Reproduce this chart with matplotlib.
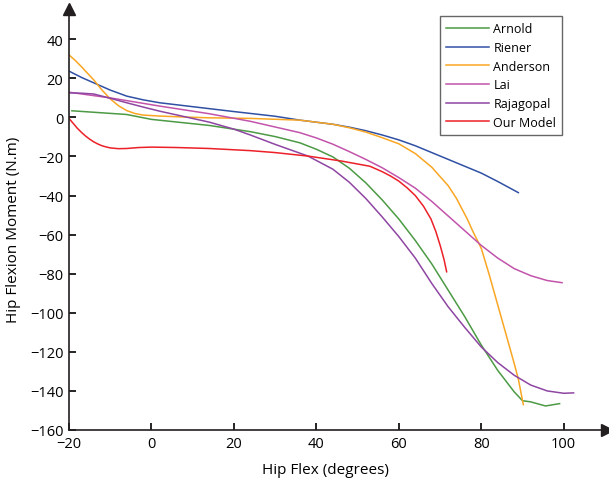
import matplotlib
matplotlib.use("Agg")
from matplotlib import pyplot as plt

plt.rcParams['font.family'] = ['Open Sans', 'DejaVu Sans']

# hip flexion angle (deg) vs moment (N.m)
arnold_x = [-19.3, -6, 0, 14, 24, 30, 36, 40, 44, 48, 52, 56, 60, 64, 68, 72, 76, 80, 84, 88, 90, 92, 95.6, 99]
arnold_y = [3.4, 1.5, -1.0, -4.1, -7.3, -9.8, -13, -16.3, -20.2, -26, -33.5, -42.3, -52, -63, -75, -88.5, -102, -116.5, -129.5, -140.5, -145, -145.6, -147.7, -146.5]

riener_x = [-20, -17, -14, -10, -6, -2, 2, 12, 20, 30, 36, 44, 48, 52, 56, 60, 64, 68, 72, 76, 80, 84, 89]
riener_y = [23.7, 20.5, 17.7, 14.0, 10.9, 9.0, 7.5, 5.0, 3.0, 0.6, -1.4, -3.5, -5.0, -6.8, -9.0, -11.5, -14.5, -18, -21.5, -25, -28.5, -32.8, -38.5]

anderson_x = [-20, -18.5, -17, -15.5, -14, -12, -10, -8, -6, -4, -2, 2, 8, 14, 24, 36, 44, 48, 52, 56, 60, 64, 68, 72, 74, 76.6, 78, 80, 82, 84, 86, 88, 89, 90.2]
anderson_y = [32, 29.2, 26, 22.6, 19.2, 14, 9.5, 6, 3.5, 2.0, 1.2, 0.7, 0.2, -0.2, -0.5, -1.4, -3.5, -5.3, -7.5, -10.4, -13.5, -18.5, -25.5, -35, -41.5, -52, -58.5, -67, -81, -96, -111, -126, -134, -147]

lai_x = [-20, -10, 2, 14, 24, 36, 40, 44, 48, 52, 56, 60, 64, 68, 72, 76, 80, 84, 88, 92, 96, 99.6]
lai_y = [12.9, 10, 5.8, 1.9, -2, -7.8, -10.5, -13.7, -17.5, -21.5, -25.8, -30.8, -36.2, -43, -50.5, -58, -65.5, -72, -77.4, -81, -83.5, -84.6]

raja_x = [-20, -17, -14, -10, -6, -2, 2, 8, 14, 20, 24, 30, 38, 44, 48, 52, 56, 60, 64, 68, 72, 76, 80, 84, 88, 92, 96, 100, 102.4]
raja_y = [12.6, 12.4, 12.0, 9.8, 7.5, 5.3, 3.2, 0.4, -2.4, -6, -9.0, -13.8, -19.8, -26.5, -33.2, -41.5, -51, -61, -72, -85, -97, -107.5, -117.5, -125.5, -132, -137, -140, -141.2, -141]

ours_x = [-20, -19, -18, -17, -16, -15, -14, -13, -12, -11, -10, -8, -6, -3, 0, 6, 14, 24, 30, 38, 46, 53, 56, 58, 60, 62, 64, 66, 67.8, 69, 70.1, 71, 71.6]
ours_y = [-0.5, -3, -5.5, -7.6, -9.5, -11.1, -12.5, -13.6, -14.5, -15.1, -15.6, -16, -15.9, -15.4, -15.2, -15.4, -15.9, -17, -18, -19.8, -22.3, -25, -27.8, -30, -32.6, -36, -40, -45.5, -52, -58.5, -66, -73, -79]

series = [
    ("Arnold", arnold_x, arnold_y, "#4c9a44"),
    ("Riener", riener_x, riener_y, "#3050a4"),
    ("Anderson", anderson_x, anderson_y, "#f9a623"),
    ("Lai", lai_x, lai_y, "#c254ab"),
    ("Rajagopal", raja_x, raja_y, "#8e46a2"),
    ("Our Model", ours_x, ours_y, "#ec2028"),
]

x_ticks = [-20, 0, 20, 40, 60, 80, 100]
y_ticks = [-160, -140, -120, -100, -80, -60, -40, -20, 0, 20, 40]

fig = plt.figure(figsize=(6.09, 4.85), dpi=100)
ax = fig.add_axes([69 / 609, 54 / 485, 538 / 609, 421 / 485])

for name, xs, ys, col in series:
    ax.plot(xs, ys, color=col, lw=1.1, label=name, solid_joinstyle='round')

ax.set_xlim(-20, 110.5)
ax.set_ylim(-160, 55.5)
ax.set_xticks(x_ticks)
ax.set_yticks(y_ticks)
ax.tick_params(direction='in', length=5, width=1.2, labelsize=10.5, pad=4)

for side in ['top', 'right']:
    ax.spines[side].set_visible(False)
for side in ['left', 'bottom']:
    ax.spines[side].set_linewidth(1.2)
    ax.spines[side].set_color('#231f20')

# arrow heads at the ends of the axes
ax.plot(1, 0, marker=">", color='#231f20', ms=9, transform=ax.transAxes, clip_on=False)
ax.plot(0, 1, marker="^", color='#231f20', ms=9, transform=ax.transAxes, clip_on=False)

ax.set_xlabel("Hip Flex (degrees)", fontsize=11)
ax.set_ylabel("Hip Flexion Moment (N.m)", fontsize=11)
ax.xaxis.set_label_coords(0.476, -0.075)
ax.yaxis.set_label_coords(-0.09, 0.477)

leg = ax.legend(loc='upper left', bbox_to_anchor=(0.69, 0.983), fancybox=False,
                edgecolor='#666666', fontsize=9, handlelength=3.4, handletextpad=0.35,
                labelspacing=0.45, borderpad=0.5, borderaxespad=0, framealpha=1)
leg.get_frame().set_linewidth(1.0)

fig.savefig("out.png", dpi=100)
